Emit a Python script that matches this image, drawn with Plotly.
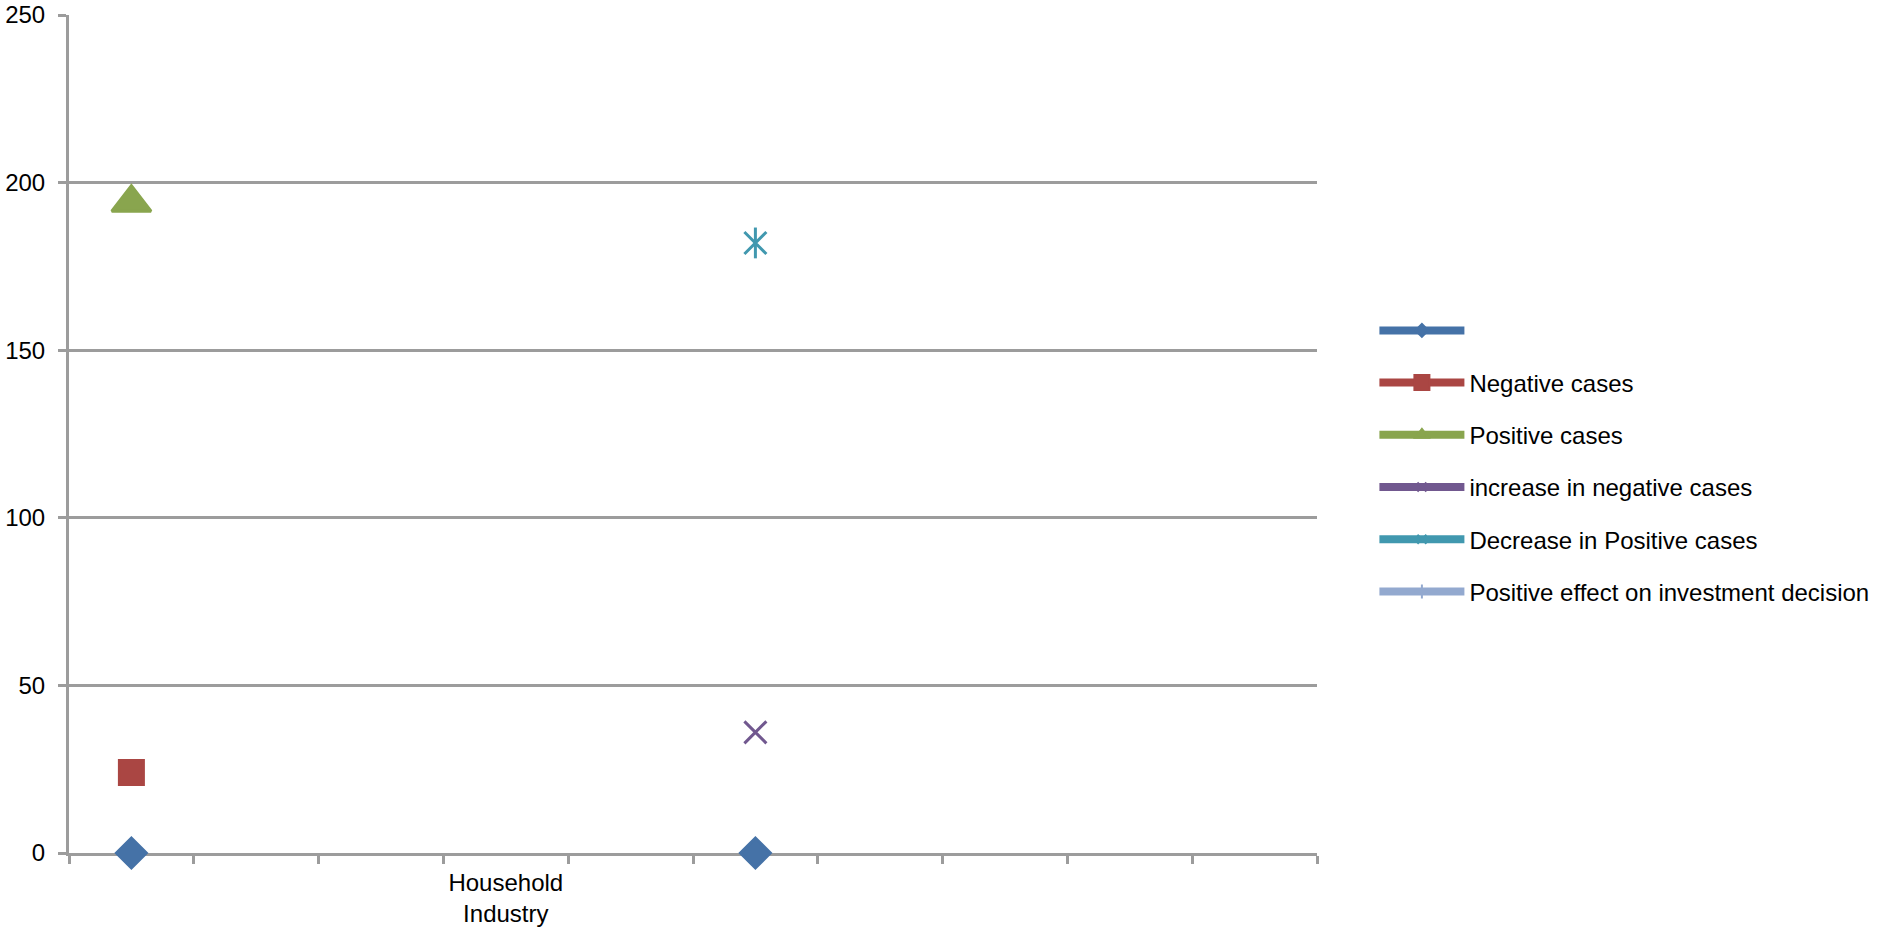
import plotly.graph_objects as go

# categories along x (only one carries a label in the source chart)
categories = ["", "", "", "Household<br>Industry", "", "", "", "", "", ""]
x_pos = list(range(1, len(categories) + 1))

series_names = [
    " ",
    "Negative cases",
    "Positive cases",
    "increase in negative cases",
    "Decrease in Positive cases",
    "Positive effect on investment decision",
]
blank_series = [0, None, None, None, None, 0, None, None, None, None]
negative_cases = [24, None, None, None, None, None, None, None, None, None]
positive_cases = [194, None, None, None, None, None, None, None, None, None]
increase_negative = [None, None, None, None, None, 36, None, None, None, None]
decrease_positive = [None, None, None, None, None, 182, None, None, None, None]
positive_effect = [None] * 10

y_ticks = [0, 50, 100, 150, 200, 250]

colors = ["#4572A7", "#AA4643", "#89A54E", "#71588F", "#4198AF", "#93A9CF"]
symbols = ["diamond", "square", "triangle-up", "x-thin-open", "x-thin-open", "cross-thin-open"]
sizes = [23, 24, 34, 22, 22, 14]
legend_sizes = [10, 15, 12, 9, 9, 10]
values = [blank_series, negative_cases, positive_cases,
          increase_negative, decrease_positive, positive_effect]

FONT = "Arial, Liberation Sans, sans-serif"
GRID = "#9C9C9C"

fig = go.Figure()

for i, (name, vals) in enumerate(zip(series_names, values)):
    fig.add_trace(go.Scatter(
        x=x_pos, y=vals, name=name, mode="lines+markers",
        connectgaps=False, showlegend=False, cliponaxis=False,
        line=dict(color=colors[i], width=8),
        marker=dict(symbol=symbols[i], size=sizes[i], color=colors[i],
                    line=dict(color=colors[i], width=3)),
    ))

# vertical stroke to turn the x into Excel's star marker
fig.add_trace(go.Scatter(
    x=x_pos, y=decrease_positive, mode="markers", showlegend=False,
    cliponaxis=False,
    marker=dict(symbol="line-ns-open", size=22, color=colors[4],
                line=dict(color=colors[4], width=3)),
))

# legend entries with the small markers Excel uses in its key
for i, name in enumerate(series_names):
    fig.add_trace(go.Scatter(
        x=[None], y=[None], name=name, mode="lines+markers",
        legendgroup=f"g{i}",
        line=dict(color=colors[i], width=8),
        marker=dict(symbol=symbols[i], size=legend_sizes[i], color=colors[i],
                    line=dict(color=colors[i], width=2)),
    ))

fig.update_layout(
    width=1890, height=930,
    margin=dict(l=69, r=573, t=15, b=77),
    paper_bgcolor="white", plot_bgcolor="white",
    font=dict(family=FONT, size=24, color="#000000"),
    legend=dict(x=1.046, y=0.65, xanchor="left", yanchor="top",
                itemwidth=85, tracegroupgap=18,
                font=dict(family=FONT, size=24, color="#000000")),
)

fig.update_xaxes(
    range=[0.5, 10.5], tickmode="array", tickvals=x_pos, ticktext=categories,
    ticks="", showgrid=False, zeroline=False, automargin=False,
    showline=True, linecolor=GRID, linewidth=3, layer="below traces",
    tickfont=dict(family=FONT, size=24), ticklabelstandoff=6,
    minor=dict(tickmode="linear", tick0=0.5, dtick=1, ticks="outside",
               ticklen=8, tickwidth=3, tickcolor=GRID, showgrid=False),
)
fig.update_yaxes(
    range=[0, 250], tickvals=y_ticks, ticks="outside", ticklen=8,
    tickwidth=3, tickcolor=GRID, showgrid=True, gridcolor=GRID, gridwidth=3,
    zeroline=False, showline=True, linecolor=GRID, linewidth=3,
    automargin=False, ticklabelstandoff=8, ticklabeloverflow="allow",
    tickfont=dict(family=FONT, size=24),
)

# drop the browser's default body margin so the figure sits at the page corner
fig.write_html("out.html", config={"displayModeBar": False},
               post_script="document.body.style.margin='0px';")
